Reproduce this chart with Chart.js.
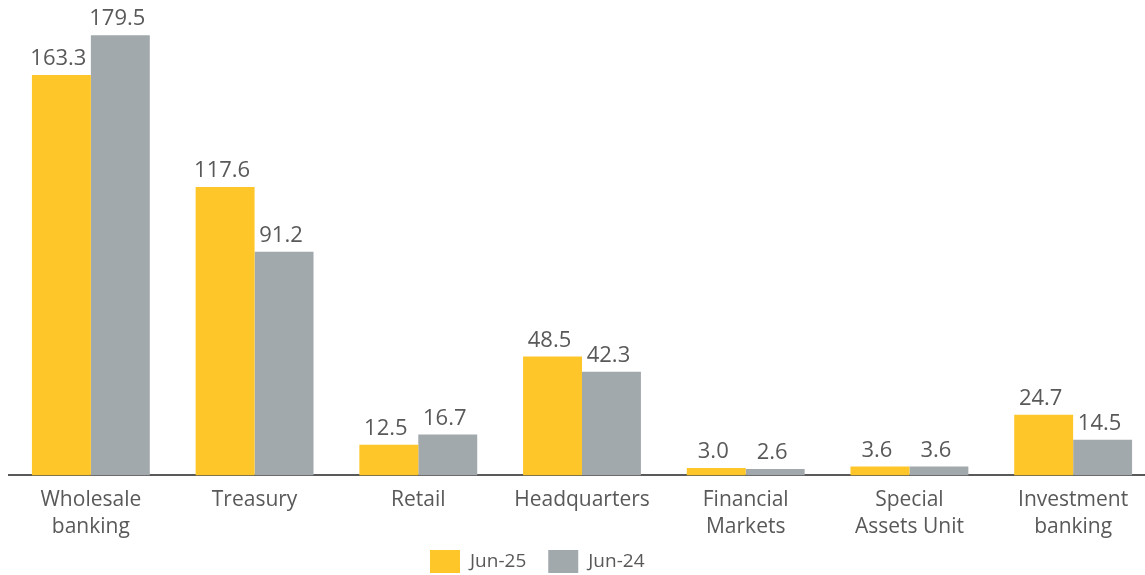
<!DOCTYPE html>
<html>
<head>
<meta charset="utf-8">
<script src="https://cdn.jsdelivr.net/npm/chart.js@4"></script>
<style>
  html, body { margin: 0; padding: 0; background: #fff; overflow: hidden; }
  canvas { display: block; }
</style>
</head>
<body>
<canvas id="segmentChart" width="1155" height="575"></canvas>
<script>
var categories = [
    ['Wholesale', 'banking'],
    'Treasury',
    'Retail',
    'Headquarters',
    ['Financial', 'Markets'],
    ['Special', 'Assets Unit'],
    ['Investment', 'banking']
];
var jun25 = [163.3, 117.6, 12.5, 48.5, 3.0, 3.6, 24.7];
var jun24 = [179.5, 91.2, 16.7, 42.3, 2.6, 3.6, 14.5];

var textColor = '#595959';
var fontFamily = '"Open Sans"';

// value above each bar, plus a simple legend at the bottom
var valueLabels = {
    id: 'valueLabels',
    afterDatasetsDraw: function(chart) {
        var ctx = chart.ctx;
        ctx.save();
        ctx.font = '22px ' + fontFamily;
        ctx.fillStyle = textColor;
        ctx.textAlign = 'center';
        ctx.textBaseline = 'bottom';
        chart.data.datasets.forEach(function(ds, i) {
            chart.getDatasetMeta(i).data.forEach(function(bar, j) {
                ctx.fillText(ds.data[j].toFixed(1), bar.x - 3, bar.y - 5);
            });
        });

        // legend
        ctx.font = '19px ' + fontFamily;
        ctx.textAlign = 'left';
        ctx.textBaseline = 'middle';
        var x = 430;
        var y = 550;
        chart.data.datasets.forEach(function(ds) {
            ctx.fillStyle = ds.backgroundColor;
            ctx.fillRect(x, y, 30, 23);
            ctx.fillStyle = textColor;
            ctx.fillText(ds.label, x + 40, y + 12);
            x += 40 + ctx.measureText(ds.label).width + 22;
        });
        ctx.restore();
    }
};

var ctx = document.getElementById('segmentChart').getContext('2d');

var myChart = new Chart(ctx, {
    type: 'bar',
    data: {
        labels: categories,
        datasets: [
            {
                label: 'Jun-25',
                data: jun25,
                backgroundColor: '#FFC629'
            },
            {
                label: 'Jun-24',
                data: jun24,
                backgroundColor: '#A2A9AC'
            }
        ]
    },
    plugins: [valueLabels],
    options: {
        responsive: false,
        animation: false,
        devicePixelRatio: 1,
        layout: {
            padding: { top: 34, left: 9, right: 0, bottom: 23 }
        },
        datasets: {
            bar: {
                categoryPercentage: 0.72,
                barPercentage: 1.0
            }
        },
        scales: {
            x: {
                grid: { display: false, drawTicks: false },
                border: { display: true, color: textColor, width: 2 },
                ticks: {
                    color: textColor,
                    font: { family: fontFamily, size: 21, lineHeight: 1.3 },
                    padding: 11,
                    maxRotation: 0,
                    autoSkip: false
                }
            },
            y: {
                display: false,
                min: 0,
                max: 180
            }
        },
        plugins: {
            legend: { display: false },
            tooltip: { enabled: false }
        }
    }
});
</script>
</body>
</html>
